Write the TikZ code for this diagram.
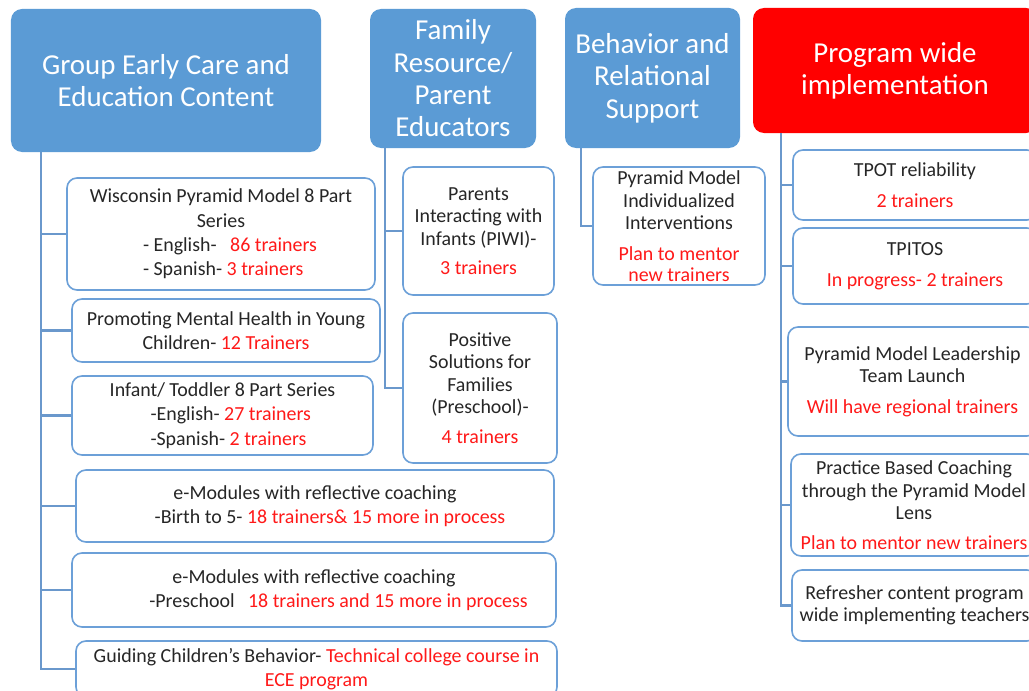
\documentclass[tikz,border=0pt]{standalone}
\usepackage{fontspec}
\setmainfont{Carlito}
\definecolor{headblue}{RGB}{91,155,213}
\definecolor{headred}{RGB}{255,0,0}
\definecolor{edgeblue}{RGB}{108,160,216}
\definecolor{linkblue}{RGB}{106,152,204}
\definecolor{hot}{RGB}{255,25,25}
\definecolor{ink}{RGB}{38,38,38}
\newcommand\hl[1]{\textcolor{hot}{#1}}

\begin{document}
\begin{tikzpicture}[x=1bp,y=-1bp,
  head/.style={fill=headblue, rounded corners=11bp, text=white, align=center,
    inner sep=0pt, font=\fontsize{29}{32.5}\selectfont},
  leaf/.style={draw=edgeblue, line width=1.6bp, fill=white, rounded corners=10bp,
    align=center, inner sep=0pt, text=ink, font=\fontsize{20}{22.6}\selectfont},
  wideleaf/.style={leaf, font=\fontsize{20}{24.3}\selectfont},
  link/.style={draw=linkblue, line width=2.2bp}]
\useasboundingbox (0,0) rectangle (1029,691);
\clip (0,0) rectangle (1029,691);

% column headers
\node[head, minimum width=310bp, minimum height=143bp] (h1) at (166,80.5)
  {Group Early Care and\\Education Content};
\node[head, minimum width=166bp, minimum height=139bp] (h2) at (453,78.5)
  {Family\\Resource/\\Parent\\Educators};
\node[head, minimum width=175bp, minimum height=140bp] (h3) at (652.5,78)
  {Behavior and\\Relational\\Support};
\node[head, fill=headred, minimum width=284bp, minimum height=125bp] (h4) at (895,70.5)
  {Program wide\\implementation};

% group early care and education content
\node[wideleaf, minimum width=308bp, minimum height=112bp] (c1) at (221,234)
  {Wisconsin Pyramid Model 8 Part\\Series\\
   \hspace*{23bp}\makebox[179bp][l]{- English-\ \ \ \hl{86 trainers}}\\
   \hspace*{23bp}\makebox[179bp][l]{- Spanish- \hl{3 trainers}}};
\node[wideleaf, minimum width=308bp, minimum height=63bp] (c2) at (226,330.5)
  {Promoting Mental Health in Young\\Children- \hl{12 Trainers}};
\node[wideleaf, minimum width=301bp, minimum height=79bp] (c3) at (222.5,415.5)
  {Infant/ Toddler 8 Part Series\\
   \hspace*{19bp}\makebox[163bp][l]{-English- \hl{27 trainers}}\\
   \hspace*{19bp}\makebox[163bp][l]{-Spanish- \hl{2 trainers}}};
\node[wideleaf, minimum width=478bp, minimum height=72bp] (c4) at (315,506)
  {e-Modules with reflective coaching\\
   \hspace*{30bp}-Birth to 5- \hl{18 trainers\& 15 more in process}};
\node[wideleaf, minimum width=484bp, minimum height=74bp] (c5) at (314,590)
  {e-Modules with reflective coaching\\
   \hspace*{49bp}-Preschool\ \ \ \hl{18 trainers and 15 more in process}};
\node[wideleaf, minimum width=481bp, minimum height=56bp] (c6) at (316.5,669)
  {Guiding Children’s Behavior- \hl{Technical college course in}\\\hl{ECE program}};

% family resource / parent educators
\node[leaf, minimum width=151bp, minimum height=128bp] (f1) at (478.5,231)
  {Parents\\Interacting with\\Infants (PIWI)-\\[7bp]\hl{3 trainers}};
\node[leaf, minimum width=154bp, minimum height=150bp] (f2) at (480,388)
  {Positive\\Solutions for\\Families\\(Preschool)-\\[7bp]\hl{4 trainers}};

% behavior and relational support
\node[leaf, minimum width=172bp, minimum height=118bp] (b1) at (679,226)
  {Pyramid Model\\Individualized\\Interventions\\[8bp]\hl{Plan to mentor}\\[-1.5bp]\hl{new trainers}};

% program wide implementation
\node[leaf, minimum width=244bp, minimum height=70bp] (p1) at (915,185)
  {TPOT reliability\\[8bp]\hl{2 trainers}};
\node[leaf, minimum width=244bp, minimum height=76bp] (p2) at (915,266)
  {TPITOS\\[8bp]\hl{In progress- 2 trainers}};
\node[leaf, minimum width=249bp, minimum height=109bp] (p3) at (912.5,381.5)
  {Pyramid Model Leadership\\Team Launch\\[8bp]\hl{Will have regional trainers}};
\node[leaf, minimum width=246bp, minimum height=102bp] (p4) at (914,505)
  {Practice Based Coaching\\through the Pyramid Model\\Lens\\[7bp]\hl{Plan to mentor new trainers}};
\node[leaf, minimum width=245bp, minimum height=71bp] (p5) at (914.5,605.5)
  {Refresher content program\\wide implementing teachers};

% trunks hanging from each header
\coordinate (s1) at ([xshift=30bp]h1.south west);
\coordinate (s2) at ([xshift=15bp]h2.south west);
\coordinate (s3) at ([xshift=16bp]h3.south west);
\coordinate (s4) at ([xshift=28bp]h4.south west);

\draw[link] (s1) |- (c6.west);
\foreach \k in {c1,c2,c3,c4,c5} \draw[link] (s1 |- \k.west) -- (\k.west);

\draw[link] (s2) |- (f2.west);
\draw[link] (s2 |- f1.west) -- (f1.west);

\draw[link] (s3) |- (b1.west);

\draw[link] (s4) |- (p5.west);
\foreach \k in {p1,p2,p3,p4} \draw[link] (s4 |- \k.west) -- (\k.west);
\end{tikzpicture}
\end{document}
